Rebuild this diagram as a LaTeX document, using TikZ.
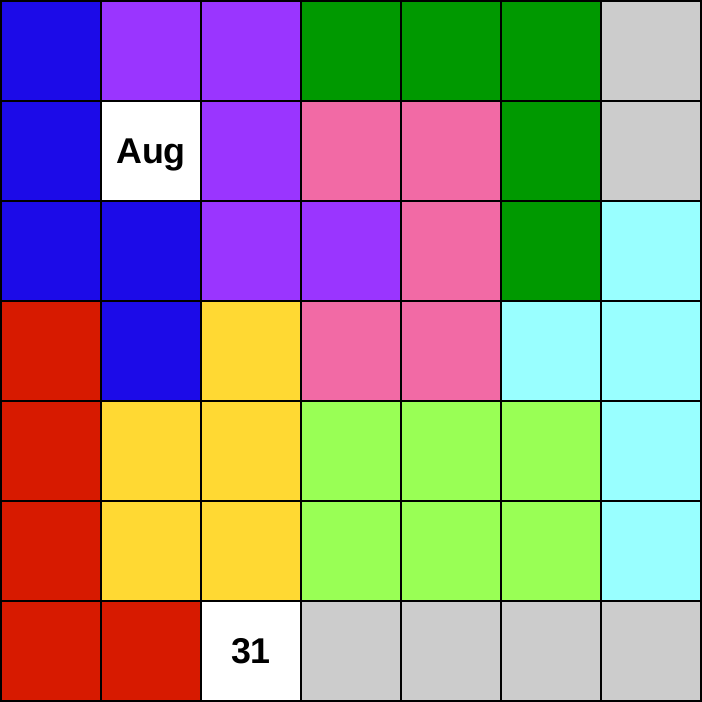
\documentclass[tikz,border=0pt]{standalone}
\usepackage{fontspec}
\setmainfont{Liberation Sans}

% colours of the pieces
\definecolor{colB}{HTML}{1C0BE8}
\definecolor{colP}{HTML}{9A35FF}
\definecolor{colG}{HTML}{009900}
\definecolor{colY}{HTML}{CCCCCC}
\definecolor{colK}{HTML}{F26AA5}
\definecolor{colC}{HTML}{99FFFF}
\definecolor{colR}{HTML}{D71A00}
\definecolor{colO}{HTML}{FFD933}
\definecolor{colL}{HTML}{99FF55}
\definecolor{colW}{HTML}{FFFFFF}

\tikzset{
  cell/.style={draw=black, line width=0.35pt, minimum size=1cm, inner sep=0pt, outer sep=0pt},
  daytext/.style={font=\bfseries\fontsize{10.2}{12}\selectfont, anchor=base, yshift=-3.6pt, inner sep=0pt}
}

\begin{document}
\begin{tikzpicture}
    \useasboundingbox (-0.01,-0.01) rectangle (7.01,7.01);

    % tablero
    \foreach \row/\cols in {0/{B,P,P,G,G,G,Y},
                            1/{B,W,P,K,K,G,Y},
                            2/{B,B,P,P,K,G,C},
                            3/{R,B,O,K,K,C,C},
                            4/{R,O,O,L,L,L,C},
                            5/{R,O,O,L,L,L,C},
                            6/{R,R,W,Y,Y,Y,Y}}
      \foreach \c [count=\x from 0] in \cols
        \node[cell, fill=col\c] (c-\x-\row) at (\x+0.5,6.5-\row) {};

    % fecha
    \node[daytext] (aug) at (c-1-1) {Aug};
    \node[daytext] (day) at (c-2-6) {31};
\end{tikzpicture}
\end{document}
